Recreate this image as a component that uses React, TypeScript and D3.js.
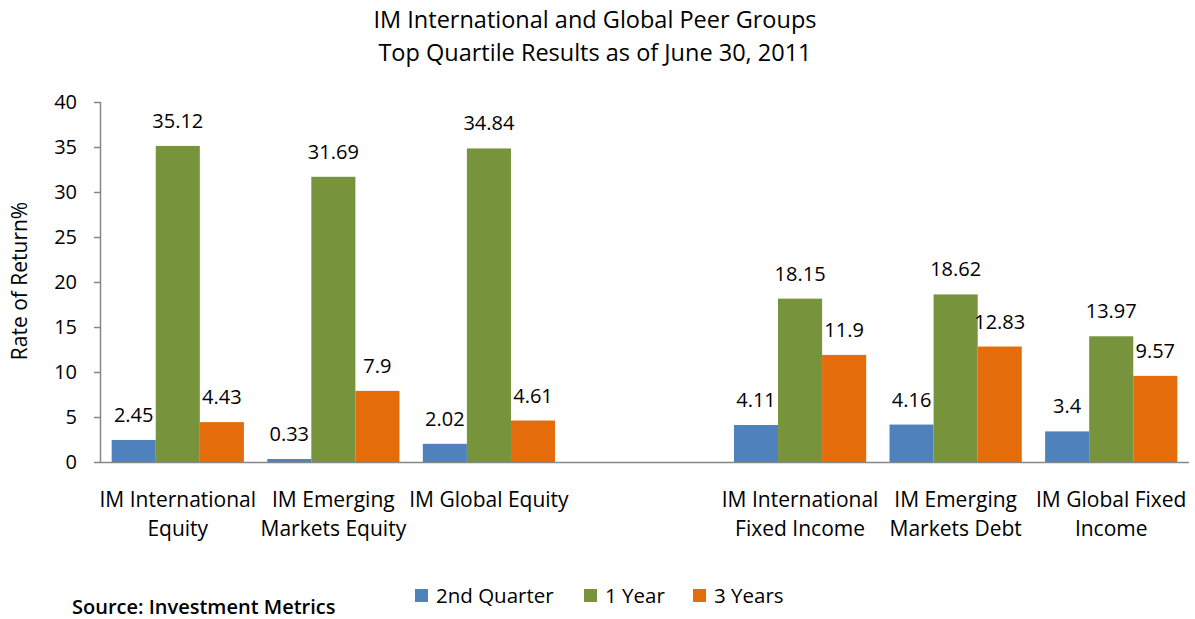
import React from "react";
import * as d3 from "d3";

const categories: string[][] = [
  ["IM International", "Equity"],
  ["IM Emerging", "Markets Equity"],
  ["IM Global Equity"],
  [],
  ["IM International", "Fixed Income"],
  ["IM Emerging", "Markets Debt"],
  ["IM Global Fixed", "Income"],
];
const seriesNames = ["2nd Quarter", "1 Year", "3 Years"];
const quarter: (number | null)[] = [2.45, 0.33, 2.02, null, 4.11, 4.16, 3.4];
const oneYear: (number | null)[] = [35.12, 31.69, 34.84, null, 18.15, 18.62, 13.97];
const threeYears: (number | null)[] = [4.43, 7.9, 4.61, null, 11.9, 12.83, 9.57];
const yTicks = [0, 5, 10, 15, 20, 25, 30, 35, 40];
const colors = ["#4F81BD", "#77933C", "#E46C0A"];

const W = 1195;
const H = 619;
const FONT = "'Open Sans', sans-serif";

export default function App() {
  const series = [quarter, oneYear, threeYears];
  const x0 = d3
    .scaleBand<number>()
    .domain(categories.map((_, i) => i))
    .range([100, 1189])
    .paddingInner(0)
    .paddingOuter(0);
  const x1 = d3
    .scaleBand<number>()
    .domain([0, 1, 2])
    .range([0, x0.bandwidth()])
    .paddingInner(0)
    .paddingOuter(0.265);
  const y = d3.scaleLinear().domain([0, 40]).range([462, 102]);

  return (
    <svg
      width={W}
      height={H}
      style={{ position: "absolute", left: 0, top: 0, background: "#fff" }}
      fontFamily={FONT}
    >
      <text x={595} y={28} textAnchor="middle" fontSize={23.5} fill="#000">
        IM International and Global Peer Groups
      </text>
      <text x={595} y={61} textAnchor="middle" fontSize={23.5} fill="#000">
        Top Quartile Results as of June 30, 2011
      </text>

      {/* y axis */}
      <line x1={100.5} x2={100.5} y1={y(40)} y2={y(0)} stroke="#868686" strokeWidth={1.5} />
      {yTicks.map((t) => (
        <g key={t}>
          <line x1={94} x2={100} y1={y(t) + 0.5} y2={y(t) + 0.5} stroke="#868686" strokeWidth={1.5} />
          <text x={77} y={y(t)} dy="0.36em" textAnchor="end" fontSize={20} fill="#000">
            {t}
          </text>
        </g>
      ))}
      <text
        transform={`translate(27,${281}) rotate(-90)`}
        textAnchor="middle"
        fontSize={21}
        fill="#000"
      >
        Rate of Return%
      </text>

      {/* bars */}
      {categories.map((cat, i) => (
        <g key={i} transform={`translate(${x0(i)},0)`}>
          {series.map((s, k) => {
            const v = s[i];
            if (v == null) return null;
            const bx = x1(k)!;
            return (
              <g key={k}>
                <rect
                  x={bx}
                  y={y(v)}
                  width={x1.bandwidth()}
                  height={y(0) - y(v)}
                  fill={colors[k]}
                />
                <text
                  x={bx + x1.bandwidth() / 2}
                  y={y(v) - 18}
                  textAnchor="middle"
                  fontSize={20}
                  fill="#000"
                >
                  {String(v)}
                </text>
              </g>
            );
          })}
        </g>
      ))}
      <line x1={100} x2={1189} y1={462.5} y2={462.5} stroke="#868686" strokeWidth={1.5} />

      {/* category labels */}
      {categories.map((cat, i) =>
        cat.map((line, j) => (
          <text
            key={`${i}-${j}`}
            x={x0(i)! + x0.bandwidth() / 2}
            y={507 + j * 29}
            textAnchor="middle"
            fontSize={21}
            fill="#000"
          >
            {line}
          </text>
        ))
      )}

      {/* legend */}
      {seriesNames.map((n, k) => {
        const lx = [415, 584, 693][k];
        return (
          <g key={n}>
            <rect x={lx} y={589} width={13} height={13} fill={colors[k]} />
            <text x={lx + 21} y={603} fontSize={20.5} fill="#000">
              {n}
            </text>
          </g>
        );
      })}

      <text x={72} y={614} fontSize={20} fill="#000" fontWeight={600}>
        Source: Investment Metrics
      </text>
    </svg>
  );
}
